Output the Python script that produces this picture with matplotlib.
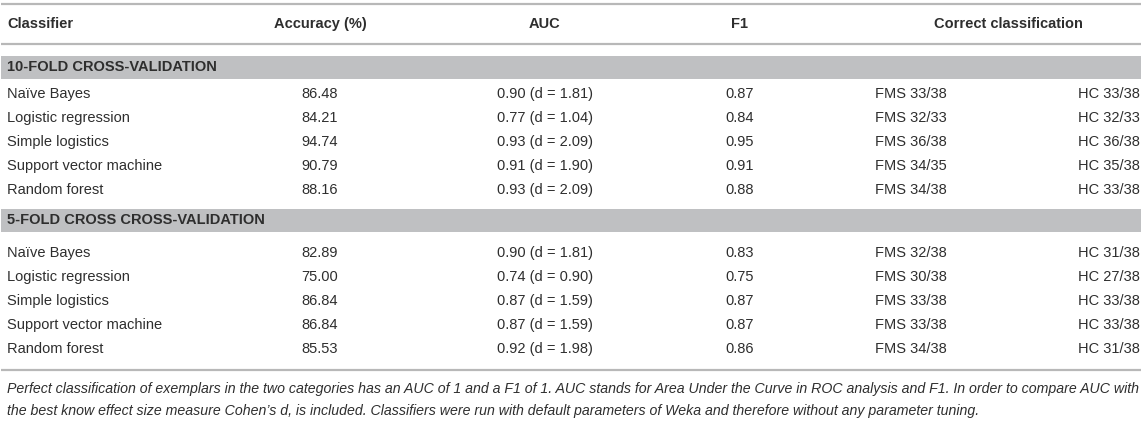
import matplotlib
matplotlib.use("Agg")
import matplotlib.pyplot as plt
import matplotlib.patches as patches

# Table content
columns = ["Classifier", "Accuracy (%)", "AUC", "F1", "Correct classification"]
sections = ["10-FOLD CROSS-VALIDATION", "5-FOLD CROSS CROSS-VALIDATION"]
classifiers = ["Naïve Bayes", "Logistic regression", "Simple logistics",
               "Support vector machine", "Random forest"]

accuracy_10 = [86.48, 84.21, 94.74, 90.79, 88.16]
auc_10 = [0.90, 0.77, 0.93, 0.91, 0.93]
d_10 = [1.81, 1.04, 2.09, 1.90, 2.09]
f1_10 = [0.87, 0.84, 0.95, 0.91, 0.88]
fms_10 = ["33/38", "32/33", "36/38", "34/35", "34/38"]
hc_10 = ["33/38", "32/33", "36/38", "35/38", "33/38"]

accuracy_5 = [82.89, 75.00, 86.84, 86.84, 85.53]
auc_5 = [0.90, 0.74, 0.87, 0.87, 0.92]
d_5 = [1.81, 0.90, 1.59, 1.59, 1.98]
f1_5 = [0.83, 0.75, 0.87, 0.87, 0.86]
fms_5 = ["32/38", "30/38", "33/38", "33/38", "34/38"]
hc_5 = ["31/38", "27/38", "33/38", "33/38", "31/38"]

footnote = ["Perfect classification of exemplars in the two categories has an AUC of 1 and a F1 of 1. "
            "AUC stands for Area Under the Curve in ROC analysis and F1. In order to compare AUC with",
            "the best know effect size measure Cohen\u2019s d, is included. Classifiers were run with "
            "default parameters of Weka and therefore without any parameter tuning."]

W, H = 1145, 428
plt.rcParams['font.family'] = ['Liberation Sans', 'DejaVu Sans']
fig = plt.figure(figsize=(W / 100, H / 100), dpi=100)
ax = fig.add_axes([0, 0, 1, 1])
ax.set_xlim(0, W)
ax.set_ylim(H, 0)
ax.axis('off')

txt = '#2e2e2e'
rule = '#b8b8b8'
band = '#bfc0c2'
fs = 10.5

# column anchors (pixels)
x_name, x_acc, x_auc, x_f1, x_cc, x_fms, x_hc = 7, 320, 545, 740, 1008, 875, 1140
x0, x1 = 1, 1141


def hline(y):
    ax.plot([x0, x1], [y, y], color=rule, lw=1.6, solid_capstyle='butt')


hline(4)
hline(44)
hline(370)

# header
head_x = [x_name, x_acc, x_auc, x_f1, x_cc]
head_ha = ['left', 'center', 'center', 'center', 'center']
for c, x, ha in zip(columns, head_x, head_ha):
    ax.text(x, 23.5, c, ha=ha, va='center', fontsize=fs, fontweight='bold', color=txt)

blocks = [
    (sections[0], 67, 94, accuracy_10, auc_10, d_10, f1_10, fms_10, hc_10),
    (sections[1], 220, 253, accuracy_5, auc_5, d_5, f1_5, fms_5, hc_5),
]
row_h = 24

for title, yb, y_first, acc, auc, dd, f1, fms, hc in blocks:
    ax.add_patch(patches.Rectangle((x0, yb - 11.5), x1 - x0, 23, facecolor=band,
                                   edgecolor='none'))
    ax.text(x_name, yb, title, ha='left', va='center', fontsize=fs,
            fontweight='bold', color=txt)
    for i, name in enumerate(classifiers):
        y = y_first + i * row_h
        ax.text(x_name, y, name, ha='left', va='center', fontsize=fs, color=txt)
        ax.text(x_acc, y, f"{acc[i]:.2f}", ha='center', va='center', fontsize=fs, color=txt)
        ax.text(x_auc, y, f"{auc[i]:.2f} (d = {dd[i]:.2f})", ha='center', va='center',
                fontsize=fs, color=txt)
        ax.text(x_f1, y, f"{f1[i]:.2f}", ha='center', va='center', fontsize=fs, color=txt)
        ax.text(x_fms, y, f"FMS {fms[i]}", ha='left', va='center', fontsize=fs, color=txt)
        ax.text(x_hc, y, f"HC {hc[i]}", ha='right', va='center', fontsize=fs, color=txt)

for k, line in enumerate(footnote):
    ax.text(x_name, 389 + k * 22, line, ha='left', va='center', fontsize=10.15,
            style='italic', color=txt)

fig.savefig("out.png", dpi=100)
